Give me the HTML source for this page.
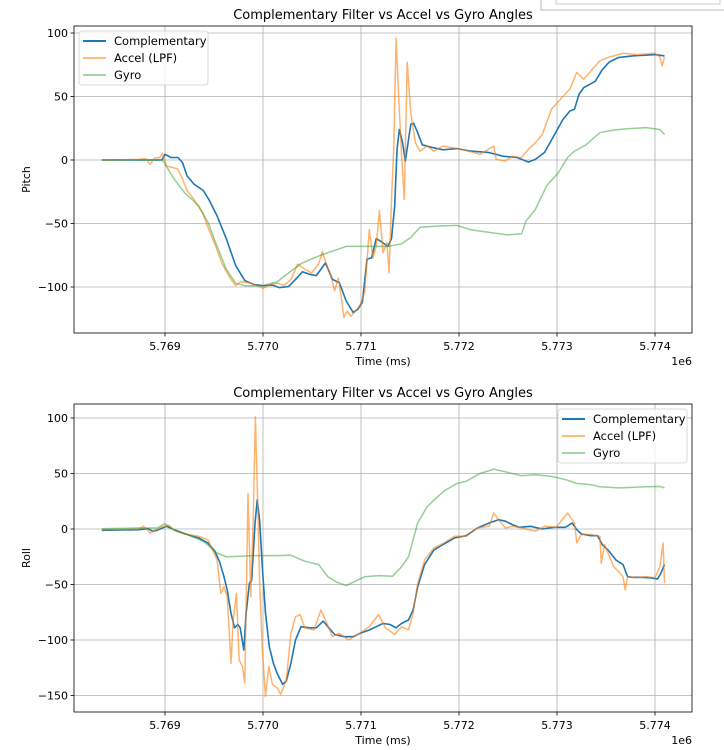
<!DOCTYPE html>
<html><head><meta charset="utf-8"><style>
html,body{margin:0;padding:0;background:#fff;}
svg{display:block;font-family:"DejaVu Sans","Liberation Sans",sans-serif;}
</style></head><body>
<svg id="chart" width="724" height="750" viewBox="0 0 724 750">
<rect x="0" y="0" width="724" height="750" fill="#fff"/>
<rect x="541" y="-2" width="185" height="12" fill="#fff" stroke="#bbb"/>
<rect x="556" y="-2" width="164" height="6" fill="#fff" stroke="#ccc"/>
</svg>
<script>
// Time offsets are in ms relative to T0 = 5769000 ms
const T0 = 5769000;
const xTicks = [0, 1000, 2000, 3000, 4000, 5000];
const xTickLabels = ["5.769", "5.770", "5.771", "5.772", "5.773", "5.774"];
const pitchTicks = [100, 50, 0, -50, -100];
const rollTicks = [100, 50, 0, -50, -100, -150];

const pitchCompT = [-645,-33,0,61,132,179,226,296,391,447,532,626,720,814,908,1002,1096,1167,1261,1332,1402,1473,1544,1638,1708,1779,1849,1920,1967,2014,2061,2108,2155,2202,2273,2311,2344,2367,2391,2424,2452,2485,2508,2537,2579,2626,2720,2838,2979,3120,3308,3449,3591,3708,3779,3873,3967,4061,4132,4179,4226,4273,4391,4461,4532,4626,4767,4908,5002,5097];
const pitchCompV = [0,0,4.5,2,2,-2,-12.6,-19,-24,-31,-44,-62,-83,-95,-98,-99,-98.5,-100.5,-99.7,-94,-88,-90,-91,-81,-94,-96.5,-111,-120,-117.6,-112,-78,-77,-62,-64,-68,-62,-36,8,24,13.6,-1,16,28,29,21.5,12,10,8,9,7,5.8,3,2,-1.6,0.5,6,19,32,38.6,40,52,57,62,71,77,80.6,82,82.5,83,82];

const pitchAccT = [-645,-268,-198,-151,-104,-56,-24,14,85,132,179,226,296,391,438,508,579,649,720,767,861,932,1002,1073,1144,1214,1285,1355,1426,1496,1567,1605,1638,1685,1732,1769,1802,1826,1859,1897,1944,1991,2038,2085,2122,2155,2188,2226,2264,2287,2311,2334,2358,2386,2414,2442,2471,2508,2555,2602,2673,2744,2838,3026,3214,3355,3379,3473,3544,3638,3708,3779,3849,3944,4038,4132,4202,4273,4344,4438,4532,4673,4814,5002,5050,5073,5097];
const pitchAccV = [0,0.5,1,-3.4,1.8,1.8,5.2,-4.7,-6,-7.3,-15,-24,-31,-43,-53,-66,-81,-91,-99,-96,-96.6,-98.7,-101,-98,-97,-98.7,-94,-82,-86,-89,-82,-72,-80,-89,-103,-93,-110,-124,-119,-123,-119,-114,-104,-55,-77,-68,-40,-73,-65,-89,-31,8.4,96,48,3,-31,77,37,13.6,7,11,7,11,8.4,4.5,11,0.5,-0.8,3,1.8,8.4,13.6,20,40,48,56,69,63.5,70,78,81,84,83,84,81,74,81];

const pitchGyroT = [-645,-33,-9,85,202,344,438,532,626,720,814,1002,1144,1261,1379,1520,1661,1849,2085,2273,2414,2508,2602,2791,2979,3120,3308,3497,3638,3685,3779,3897,4014,4108,4179,4296,4438,4579,4720,4908,5050,5097];
const pitchGyroV = [0,0,-2,-14,-26,-36,-49,-68,-86,-97,-99,-99,-96,-89,-82,-77,-73,-68,-68,-68,-66,-61,-53,-52,-51.5,-55,-57,-59,-58,-48,-39,-20,-10,2,7,12,21.5,23.6,24.6,25.5,24,20];

const rollCompT = [-645,-268,-174,-127,-80,-9,14,108,202,344,438,508,555,602,635,673,710,743,767,804,828,861,885,918,941,965,993,1026,1064,1106,1144,1200,1238,1285,1332,1388,1473,1544,1614,1670,1732,1826,1920,1991,2085,2155,2226,2296,2358,2414,2485,2532,2579,2649,2744,2838,2955,3073,3190,3308,3402,3473,3544,3614,3732,3849,3967,4085,4155,4202,4249,4344,4414,4461,4532,4602,4673,4720,4767,4861,4955,5026,5059,5097];
const rollCompV = [-1.2,-0.6,0.3,-2,-1.2,1.5,2.4,-1.2,-4.2,-8.1,-12.6,-20,-29,-43,-55,-76,-89,-86,-89,-109,-76,-49,-46,5,26,8,-34,-76,-106,-121,-130,-140,-137,-121,-100,-88,-89,-89,-83,-89,-95,-97,-97,-94,-91,-88,-85,-86,-89,-85,-82,-73,-52,-32,-19,-14,-8,-6,1,5.4,8.4,7,4,1.5,2.4,0,1.5,1.5,5.4,-0.6,-4.5,-6,-6,-14,-20,-28,-32,-43,-43.5,-43.5,-44,-45,-40,-32];

const rollAccT = [-645,-268,-221,-174,-151,-104,-33,38,108,202,344,438,532,569,602,635,673,696,729,757,790,814,847,875,899,922,946,965,993,1026,1059,1096,1144,1181,1238,1285,1332,1379,1426,1520,1591,1638,1708,1779,1873,1967,2085,2179,2249,2344,2414,2485,2532,2579,2649,2744,2838,2955,3073,3190,3308,3355,3402,3473,3544,3638,3779,3873,3991,4108,4179,4202,4249,4344,4438,4452,4485,4579,4626,4673,4696,4720,4814,4908,5002,5050,5083,5097];
const rollAccV = [-0.6,0,2.4,-1.2,-4,-1.2,1.8,3.3,-2,-4.5,-6.6,-9.6,-28,-58,-52,-61,-121,-82,-58,-118,-124,-139,32,-61,5.4,101,23,-46,-109,-151,-124,-140,-143,-149,-136,-94,-79,-77,-89,-91,-73,-82,-97,-94,-100,-95,-88,-77,-89,-95,-88,-91,-76,-49,-28,-17,-13,-6.6,-6.6,1,2.4,14.4,8.4,1,2.4,1,-2,2.4,1.5,14.4,5.4,-12.6,-5,-5,-6.6,-31,-14,-34,-38,-43,-55,-43,-44,-43,-44,-34,-12.6,-49];

const rollGyroT = [-645,-268,-80,0,85,202,391,532,626,767,908,1144,1285,1426,1567,1661,1755,1849,1944,2038,2179,2320,2414,2485,2579,2673,2767,2861,2979,3073,3214,3355,3497,3638,3779,3967,4108,4202,4344,4438,4626,4908,5050,5097];
const rollGyroV = [0.3,0.9,0.9,4.8,-0.6,-4.2,-11,-21.6,-25,-24.6,-24,-24,-23.7,-29,-32,-43,-48,-51,-47,-43,-42,-42.6,-34,-25,5.4,20,28,35,41,43,50,54,51,48,49,47,44,41,40,38,37,38,38.3,37];

const NS = "http://www.w3.org/2000/svg";
const svg = document.getElementById("chart");
function mk(tag, attrs, parent) {
  const e = document.createElementNS(NS, tag);
  for (const k in attrs) e.setAttribute(k, attrs[k]);
  (parent || svg).appendChild(e);
  return e;
}
function xScale(t) { return 165 + t * 0.098; }

function drawPanel(cfg) {
  const g = mk("g", {});
  
  
  const L = 74, R = 692, T = cfg.top, B = cfg.bottom;
  const yS = v => cfg.zeroY - v * cfg.k;
  // grid
  xTicks.forEach((t, i) => {
    const x = xScale(t);
    const ln = mk("line", {x1: x, x2: x, y1: T, y2: B, stroke: "#b0b0b0", "stroke-width": 0.8}, g);
    
    
    mk("line", {x1: x, x2: x, y1: B, y2: B + 3.5, stroke: "#000", "stroke-width": 0.8}, g);
    const tx = mk("text", {x: x, y: B + 17, "font-size": 11, "text-anchor": "middle", fill: "#000"}, g);
    tx.textContent = xTickLabels[i];
    
    
  });
  cfg.ticks.forEach(v => {
    const y = yS(v);
    const ln = mk("line", {x1: L, x2: R, y1: y, y2: y, stroke: "#b0b0b0", "stroke-width": 0.8}, g);
    
    
    mk("line", {x1: L - 3.5, x2: L, y1: y, y2: y, stroke: "#000", "stroke-width": 0.8}, g);
    const tx = mk("text", {x: L - 6, y: y + 4, "font-size": 11, "text-anchor": "end", fill: "#000"}, g);
    tx.textContent = v < 0 ? "\u2212" + Math.abs(v) : String(v);
    
    
  });
  const clipId = "clip-" + cfg.name;
  const cp = mk("clipPath", {id: clipId}, g);
  mk("rect", {x: L, y: T, width: R - L, height: B - T}, cp);
  const series = [
    [cfg.compT, cfg.compV, "#1f77b4", 1, 1.6, "complementary-line"],
    [cfg.accT, cfg.accV, "#ff7f0e", 0.6, 1.5, "accel-lpf-line"],
    [cfg.gyroT, cfg.gyroV, "#2ca02c", 0.5, 1.5, "gyro-line"]
  ];
  series.forEach(s => {
    const d = s[0].map((t, i) => (i ? "L" : "M") + xScale(t).toFixed(1) + "," + yS(s[1][i]).toFixed(1)).join("");
    const p = mk("path", {d: d, fill: "none", stroke: s[2], "stroke-opacity": s[3], "stroke-width": s[4], "stroke-linejoin": "round", "clip-path": "url(#" + clipId + ")"}, g);
    
    
  });
  const fr = mk("rect", {x: L, y: T, width: R - L, height: B - T, fill: "none", stroke: "#000", "stroke-width": 0.8}, g);
  
  
  const title = mk("text", {x: 383, y: T - 7, "font-size": 13, "text-anchor": "middle", fill: "#000"}, g);
  title.textContent = "Complementary Filter vs Accel vs Gyro Angles";
  
  
  const xl = mk("text", {x: 383, y: B + 32, "font-size": 11, "text-anchor": "middle", fill: "#000"}, g);
  xl.textContent = "Time (ms)";
  
  
  const off = mk("text", {x: R, y: B + 32, "font-size": 11, "text-anchor": "end", fill: "#000"}, g);
  off.textContent = "1e6";
  
  
  const yl = mk("text", {x: 0, y: 0, "font-size": 11, "text-anchor": "middle", fill: "#000", transform: "translate(30," + ((T + B) / 2) + ") rotate(-90)"}, g);
  yl.textContent = cfg.ylabel;
  
  
  // legend
  const lg = mk("g", {}, g);
  
  
  mk("rect", {x: cfg.lx, y: cfg.ly, width: 129, height: 54, rx: 3, fill: "#fff", "fill-opacity": 0.8, stroke: "#d0d0d0", "stroke-width": 0.8}, lg);
  const names = ["Complementary", "Accel (LPF)", "Gyro"];
  series.forEach((s, i) => {
    const y = cfg.ly + 10 + i * 17;
    const ln = mk("line", {x1: cfg.lx + 4, x2: cfg.lx + 27, y1: y, y2: y, stroke: s[2], "stroke-opacity": s[3], "stroke-width": s[4] + 0.3}, lg);
    
    
    const tx = mk("text", {x: cfg.lx + 35, y: y + 4, "font-size": 11.5, fill: "#000"}, lg);
    tx.textContent = names[i];
    
    
  });
}

drawPanel({name: "pitch-chart", top: 26, bottom: 333, zeroY: 160, k: 1.27, ticks: pitchTicks, ylabel: "Pitch",
  compT: pitchCompT, compV: pitchCompV, accT: pitchAccT, accV: pitchAccV, gyroT: pitchGyroT, gyroV: pitchGyroV, lx: 79, ly: 31});
drawPanel({name: "roll-chart", top: 404, bottom: 712, zeroY: 529, k: 1.11, ticks: rollTicks, ylabel: "Roll",
  compT: rollCompT, compV: rollCompV, accT: rollAccT, accV: rollAccV, gyroT: rollGyroT, gyroV: rollGyroV, lx: 558, ly: 409});
</script>
</body></html>
